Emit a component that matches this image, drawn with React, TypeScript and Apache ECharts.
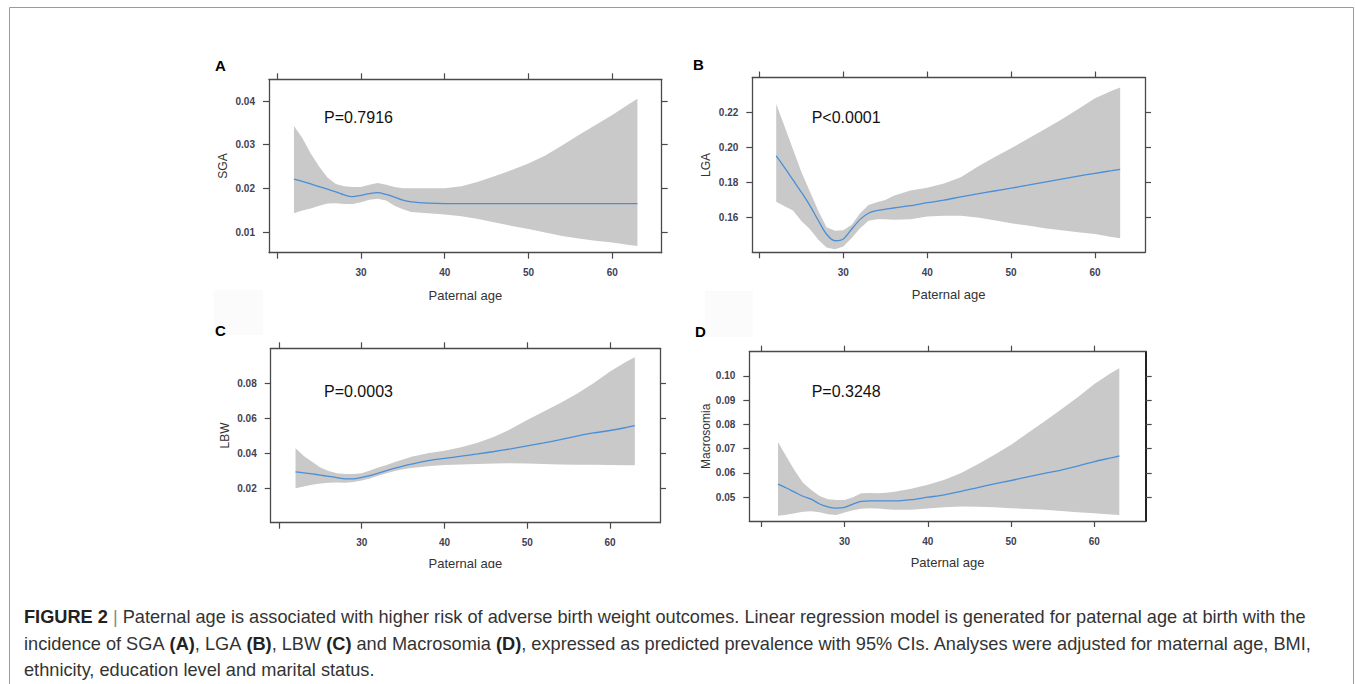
import React, { useEffect, useRef } from "react";
import * as echarts from "echarts";

// ---------- data ----------
const AGES = [22, 23, 24, 25, 26, 27, 28, 29, 30, 31, 32, 33, 34, 35, 36, 38, 40, 42, 44, 46, 48, 50, 52, 54, 56, 58, 60, 62, 63];

const SGA_FIT = [0.0221, 0.0216, 0.021, 0.0204, 0.0198, 0.0192, 0.0185, 0.0181, 0.0184, 0.0188, 0.019, 0.0186, 0.018, 0.0173, 0.0169, 0.0166, 0.0165, 0.0165, 0.0165, 0.0165, 0.0165, 0.0165, 0.0165, 0.0165, 0.0165, 0.0165, 0.0165, 0.0165, 0.0165];
const SGA_UPPER = [0.0343, 0.0315, 0.028, 0.025, 0.0225, 0.021, 0.0205, 0.0203, 0.0203, 0.0208, 0.0212, 0.0208, 0.0203, 0.02, 0.02, 0.02, 0.02, 0.0205, 0.0215, 0.0228, 0.0242, 0.0257, 0.0275, 0.0298, 0.0322, 0.0345, 0.0368, 0.0393, 0.0405];
const SGA_LOWER = [0.0143, 0.0149, 0.0154, 0.016, 0.0165, 0.0166, 0.0164, 0.0164, 0.0168, 0.0174, 0.0176, 0.0172, 0.016, 0.0152, 0.0146, 0.0143, 0.014, 0.0136, 0.013, 0.0122, 0.0114, 0.0107, 0.0099, 0.0091, 0.0085, 0.008, 0.0076, 0.007, 0.0068];

const LGA_FIT = [0.1952, 0.1885, 0.1815, 0.1745, 0.167, 0.1585, 0.1505, 0.1468, 0.1478, 0.1535, 0.159, 0.1625, 0.164, 0.1648, 0.1655, 0.1668, 0.1685, 0.17, 0.1718, 0.1735, 0.1752, 0.1768, 0.1785, 0.1803, 0.182, 0.1837, 0.1853, 0.1868, 0.1876];
const LGA_UPPER = [0.2248, 0.212, 0.199, 0.186, 0.175, 0.164, 0.1545, 0.1525, 0.1528, 0.156, 0.1625, 0.1672, 0.1688, 0.17, 0.1725, 0.1755, 0.1771, 0.1795, 0.183, 0.189, 0.1945, 0.1996, 0.205, 0.2105, 0.216, 0.222, 0.2282, 0.2325, 0.2343];
const LGA_LOWER = [0.1691, 0.1665, 0.164, 0.158, 0.1535, 0.1475, 0.143, 0.1419, 0.1435, 0.1483, 0.154, 0.1582, 0.159, 0.159, 0.1588, 0.159, 0.1606, 0.161, 0.161, 0.16, 0.1585, 0.1568, 0.1555, 0.154, 0.1528, 0.1517, 0.1507, 0.149, 0.1482];

const LBW_FIT = [0.0293, 0.0288, 0.0282, 0.0275, 0.0268, 0.0261, 0.0254, 0.0254, 0.0262, 0.0272, 0.0286, 0.0301, 0.0315, 0.0327, 0.0338, 0.0358, 0.0371, 0.0383, 0.0396, 0.041, 0.0425, 0.0442, 0.0459, 0.0478, 0.0498, 0.0516, 0.053, 0.0548, 0.0558];
const LBW_UPPER = [0.0429, 0.0385, 0.0352, 0.0318, 0.0298, 0.0285, 0.0282, 0.0282, 0.0286, 0.0302, 0.0318, 0.0333, 0.035, 0.0365, 0.038, 0.04, 0.0415, 0.0435, 0.046, 0.0495, 0.0538, 0.059, 0.0638, 0.0688, 0.074, 0.08, 0.0867, 0.0925, 0.0949];
const LBW_LOWER = [0.02, 0.021, 0.022, 0.0227, 0.0232, 0.0233, 0.0232, 0.0236, 0.0244, 0.0256, 0.0272, 0.0286, 0.0298, 0.0308, 0.0315, 0.0325, 0.0333, 0.0336, 0.0339, 0.0341, 0.0343, 0.0341, 0.0339, 0.0336, 0.0335, 0.0334, 0.0333, 0.0332, 0.0331];

const MAC_FIT = [0.0554, 0.0538, 0.0521, 0.0504, 0.0492, 0.0472, 0.046, 0.0455, 0.0458, 0.0472, 0.0483, 0.0485, 0.0485, 0.0485, 0.0485, 0.049, 0.05, 0.051, 0.0524, 0.054, 0.0555, 0.0569, 0.0584, 0.0598, 0.0612, 0.0628, 0.0647, 0.0662, 0.067];
const MAC_UPPER = [0.0727, 0.0668, 0.061, 0.056, 0.053, 0.0505, 0.0492, 0.0489, 0.0489, 0.05, 0.0516, 0.0517, 0.0516, 0.0518, 0.0523, 0.0535, 0.0551, 0.0572, 0.06, 0.0636, 0.0675, 0.0716, 0.0765, 0.0812, 0.0862, 0.0912, 0.0967, 0.1012, 0.1032];
const MAC_LOWER = [0.0424, 0.0428, 0.0434, 0.044, 0.0442, 0.0438, 0.043, 0.0427, 0.0437, 0.0446, 0.0452, 0.0455, 0.0454, 0.045, 0.0448, 0.0448, 0.0454, 0.0459, 0.0462, 0.0461, 0.0459, 0.0455, 0.0451, 0.0448, 0.0443, 0.0438, 0.0434, 0.0429, 0.0427];

const X_TICKS = [20, 30, 40, 50, 60];
const X_LABELS = [30, 40, 50, 60];
const SGA_TICKS = [0.01, 0.02, 0.03, 0.04];
const LGA_TICKS = [0.16, 0.18, 0.2, 0.22];
const LBW_TICKS = [0.02, 0.04, 0.06, 0.08];
const MAC_TICKS = [0.05, 0.06, 0.07, 0.08, 0.09, 0.1];

const LETTERS = ["A", "B", "C", "D"];
const Y_NAMES = ["SGA", "LGA", "LBW", "Macrosomia"];
const P_TEXTS = ["P=0.7916", "P<0.0001", "P=0.0003", "P=0.3248"];
const X_NAME = "Paternal age";

const CAPTION_1 = "Paternal age is associated with higher risk of adverse birth weight outcomes. Linear regression model is generated for paternal age at birth with the";

// ---------- layout / style ----------
const FONT = "'Liberation Sans', Arial, Helvetica, sans-serif";
const FRAME = "#4a4a4a";
const TICK_LABEL = "#3f4155";
const BAND = "#c9c9c9";
const LINE = "#4a8fd6";

const PANELS = [
  { fit: SGA_FIT, upper: SGA_UPPER, lower: SGA_LOWER, yTicks: SGA_TICKS, grid: { left: 269, top: 79.3, width: 392.7, height: 173.4 }, x: [19.02, 65.9], y: [0.00526, 0.04497], yGap: 40, xGap: 36, letter: [215, 65], p: [324, 117.5] },
  { fit: LGA_FIT, upper: LGA_UPPER, lower: LGA_LOWER, yTicks: LGA_TICKS, grid: { left: 752.3, top: 77.5, width: 392.7, height: 174.8 }, x: [19.15, 65.96], y: [0.1402, 0.24], yGap: 40, xGap: 36, letter: [693, 64], p: [811.7, 117.5] },
  { fit: LBW_FIT, upper: LBW_UPPER, lower: LBW_LOWER, yTicks: LBW_TICKS, grid: { left: 270.7, top: 348.3, width: 389.3, height: 174.4 }, x: [19.0, 66.04], y: [0.0003, 0.1], yGap: 40, xGap: 34, letter: [215, 330], p: [324, 391.5] },
  { fit: MAC_FIT, upper: MAC_UPPER, lower: MAC_LOWER, yTicks: MAC_TICKS, grid: { left: 749.3, top: 351.7, width: 396.4, height: 169.3 }, x: [18.55, 66.17], y: [0.0402, 0.11], yGap: 37, xGap: 35, letter: [695, 331], p: [811.7, 391.5] },
];

function buildOption() {
  const grid: any[] = [];
  const xAxis: any[] = [];
  const yAxis: any[] = [];
  const series: any[] = [];
  const graphic: any[] = [];

  PANELS.forEach((pn, i) => {
    grid.push({ ...pn.grid, containLabel: false });
    const axisLine = { show: true, onZero: false, lineStyle: { color: FRAME, width: 1.3 } };
    const tickStyle = { color: FRAME, width: 1.2 };
    xAxis.push({
      type: "value", gridIndex: i, position: "bottom", min: pn.x[0], max: pn.x[1],
      axisLine, axisTick: { show: true, length: 6, customValues: X_TICKS, lineStyle: tickStyle },
      axisLabel: { customValues: X_LABELS, margin: 15, color: TICK_LABEL, fontSize: 10, fontFamily: FONT, fontWeight: 600 },
      splitLine: { show: false },
      name: X_NAME, nameLocation: "middle", nameGap: pn.xGap,
      nameTextStyle: { color: "#333", fontSize: 13, fontFamily: FONT },
    });
    xAxis.push({
      type: "value", gridIndex: i, position: "top", min: pn.x[0], max: pn.x[1],
      axisLine, axisTick: { show: true, length: 6, customValues: X_TICKS, lineStyle: tickStyle },
      axisLabel: { show: false }, splitLine: { show: false },
    });
    yAxis.push({
      type: "value", gridIndex: i, position: "left", min: pn.y[0], max: pn.y[1],
      axisLine, axisTick: { show: true, length: 6, customValues: pn.yTicks, lineStyle: tickStyle },
      axisLabel: { customValues: pn.yTicks, margin: 14, color: TICK_LABEL, fontSize: 10, fontFamily: FONT, fontWeight: 600, formatter: (v: number) => v.toFixed(2) },
      splitLine: { show: false },
      name: Y_NAMES[i], nameLocation: "middle", nameGap: pn.yGap, nameRotate: 90,
      nameTextStyle: { color: "#333", fontSize: 12, fontFamily: FONT },
    });
    yAxis.push({
      type: "value", gridIndex: i, position: "right", min: pn.y[0], max: pn.y[1],
      axisLine: i === 3 ? { show: true, onZero: false, lineStyle: { color: "#222", width: 2 } } : axisLine,
      axisTick: { show: true, length: 6, customValues: pn.yTicks, lineStyle: tickStyle },
      axisLabel: { show: false }, splitLine: { show: false },
    });

    const upper = pn.upper;
    const lower = pn.lower;
    series.push({
      type: "custom", xAxisIndex: i * 2, yAxisIndex: i * 2, silent: true,
      data: AGES.map((a, k) => [a, lower[k], upper[k]]),
      encode: { x: 0, y: [1, 2] },
      renderItem: (params: any, api: any) => {
        if (params.dataIndex !== 0) return null;
        const pts: number[][] = [];
        for (let k = 0; k < AGES.length; k++) pts.push(api.coord([AGES[k], upper[k]]));
        for (let k = AGES.length - 1; k >= 0; k--) pts.push(api.coord([AGES[k], lower[k]]));
        return { type: "polygon", shape: { points: pts }, style: { fill: BAND } };
      },
      z: 1,
    });
    series.push({
      type: "line", xAxisIndex: i * 2, yAxisIndex: i * 2, silent: true,
      data: AGES.map((a, k) => [a, pn.fit[k]]),
      showSymbol: false, smooth: 0.3,
      lineStyle: { color: LINE, width: 1.3 }, z: 2,
    });

    graphic.push({
      type: "text", x: pn.letter[0], y: pn.letter[1], z: 10,
      style: { text: LETTERS[i], fill: "#000", font: `bold 15px ${FONT}`, verticalAlign: "middle" },
    });
    graphic.push({
      type: "text", x: pn.p[0], y: pn.p[1], z: 10,
      style: { text: P_TEXTS[i], fill: "#111", font: `16px ${FONT}`, verticalAlign: "middle" },
    });
  });

  // faint scanning boxes
  graphic.push({ type: "rect", shape: { x: 214, y: 290, width: 49, height: 45 }, style: { fill: "#fbfbfb" }, z: 0 });
  graphic.push({ type: "rect", shape: { x: 705, y: 291, width: 48, height: 46 }, style: { fill: "#fbfbfb" }, z: 0 });
  // clipped axis title of panel C
  graphic.push({ type: "rect", shape: { x: 410, y: 568, width: 120, height: 12 }, style: { fill: "#fff" }, z: 100 });

  // outer frame
  graphic.push({ type: "rect", shape: { x: 9.5, y: 7.5, width: 1344, height: 700 }, style: { fill: "none", stroke: "#9a9a9a", lineWidth: 1 }, z: 0 });

  const rich = {
    b: { font: `bold 18.2px ${FONT}`, fill: "#222" },
    n: { font: `18.2px ${FONT}`, fill: "#333" },
    s: { font: `18.2px ${FONT}`, fill: "#888" },
  };
  const lines = [
    `{b|FIGURE 2}{n| }{s||}{n| ${CAPTION_1}}`,
    "{n|incidence of SGA }{b|(A)}{n|, LGA }{b|(B)}{n|, LBW }{b|(C)}{n| and Macrosomia }{b|(D)}{n|, expressed as predicted prevalence with 95% CIs. Analyses were adjusted for maternal age, BMI,}",
    "{n|ethnicity, education level and marital status.}",
  ];
  const ys = [617, 644, 670];
  lines.forEach((t, k) => {
    graphic.push({ type: "text", x: 24, y: ys[k], z: 10, style: { text: t, rich, verticalAlign: "middle" } });
  });

  return {
    animation: false,
    backgroundColor: "#ffffff",
    grid, xAxis, yAxis, series, graphic,
  };
}

export default function App() {
  const ref = useRef<HTMLDivElement>(null);
  useEffect(() => {
    if (!ref.current) return;
    const chart = echarts.init(ref.current, undefined, { renderer: "svg" });
    chart.setOption(buildOption() as any);
    return () => chart.dispose();
  }, []);
  return (
    <div
      ref={ref}
      style={{ position: "fixed", left: 0, top: 0, width: 1355, height: 684, background: "#fff" }}
    />
  );
}
